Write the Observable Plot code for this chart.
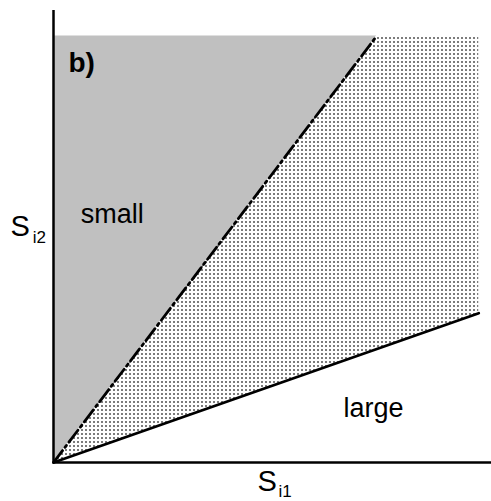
<!DOCTYPE html>
<html>
<head>
<meta charset="utf-8">
<script src="https://cdn.jsdelivr.net/npm/d3@7"></script>
<script src="https://cdn.jsdelivr.net/npm/@observablehq/plot@0.6"></script>
<style>
  html, body { margin: 0; padding: 0; background: #fff; }
  svg { display: block; }
</style>
</head>
<body>
<div id="chart"></div>
<script>
// Extent of the shaded domain (S_i1 and S_i2 in relative units)
const xMax = 100;
const yMax = 100;

// Boundary lines, each starting at the origin
const smallBoundaryEnd = [76, 100];   // dash-dot line: reaches the top edge
const largeBoundaryEnd = [100, 35];   // solid line: reaches the right edge

// Region labels
const regionLabels = ["small", "large"];
const regionX = [6.4, 68.2];
const regionY = [56.1, 10.6];

// Panel tag and axis names
const panelTag = "b)";
const axisNames = ["S", "S"];
const axisSubs = ["i2", "i1"];

// Regions built from the boundary lines
const smallSlope = smallBoundaryEnd[1] / smallBoundaryEnd[0];
const largeSlope = largeBoundaryEnd[1] / largeBoundaryEnd[0];

const grayRegion = [
  {x: 0, y1: 0, y2: yMax},
  {x: smallBoundaryEnd[0], y1: yMax, y2: yMax}
];
const dottedRegion = [0, smallBoundaryEnd[0], xMax].map(x => ({
  x,
  y1: largeSlope * x,
  y2: Math.min(smallSlope * x, yMax)
}));
const smallLine = [{x: 0, y: 0}, {x: smallBoundaryEnd[0], y: smallBoundaryEnd[1]}];
const largeLine = [{x: 0, y: 0}, {x: largeBoundaryEnd[0], y: largeBoundaryEnd[1]}];

const font = "'Liberation Sans', Arial, Helvetica, sans-serif";

const chart = Plot.plot({
  width: 491,
  height: 501,
  marginLeft: 53,
  marginRight: 0,
  marginTop: 10,
  marginBottom: 39,
  style: {fontFamily: font, background: "#fff"},
  x: {domain: [0, 103], axis: null},
  y: {domain: [0, 106], axis: null},
  marks: [
    Plot.areaY(grayRegion, {x: "x", y1: "y1", y2: "y2", fill: "#c0c0c0"}),
    Plot.areaY(dottedRegion, {x: "x", y1: "y1", y2: "y2", fill: "url(#dotfill)"}),
    Plot.line(largeLine, {x: "x", y: "y", stroke: "#000", strokeWidth: 2.8}),
    Plot.line(smallLine, {x: "x", y: "y", stroke: "#000", strokeWidth: 2.8, strokeDasharray: "15,4,2.5,4"}),
    // axes
    Plot.ruleX([0], {y1: 0, y2: 106, stroke: "#000", strokeWidth: 2.5}),
    Plot.ruleY([0], {x1: 0, x2: 103, stroke: "#000", strokeWidth: 2.5}),
    // region labels
    Plot.text(regionLabels, {
      x: (d, i) => regionX[i], y: (d, i) => regionY[i], text: d => d,
      textAnchor: "start", lineAnchor: "bottom", fontSize: 27, fill: "#000"
    }),
    Plot.text([panelTag], {
      x: 3.5, y: 91.5, text: d => d, textAnchor: "start", lineAnchor: "bottom",
      fontSize: 28, fontWeight: "bold", fill: "#000"
    }),
    // axis names with subscripts
    Plot.text(axisNames, {
      x: [-10.1, 48.0], y: [53.2, -6.6], text: d => d,
      textAnchor: "start", lineAnchor: "bottom", fontSize: 29, fill: "#000"
    }),
    Plot.text(axisSubs, {
      x: [-4.9, 52.9], y: [51.4, -8.0], text: d => d,
      textAnchor: "start", lineAnchor: "bottom", fontSize: 17, fill: "#000"
    })
  ]
});

// Dot screen used by the middle region
const defs = d3.select(chart).insert("defs", ":first-child");
const pat = defs.append("pattern")
  .attr("id", "dotfill")
  .attr("patternUnits", "userSpaceOnUse")
  .attr("width", 4)
  .attr("height", 4);
pat.append("rect").attr("width", 4).attr("height", 4).attr("fill", "#fff");
pat.append("rect").attr("x", 1).attr("y", 1).attr("width", 2).attr("height", 2).attr("fill", "#7c7c7c");

document.getElementById("chart").append(chart);
</script>
</body>
</html>
